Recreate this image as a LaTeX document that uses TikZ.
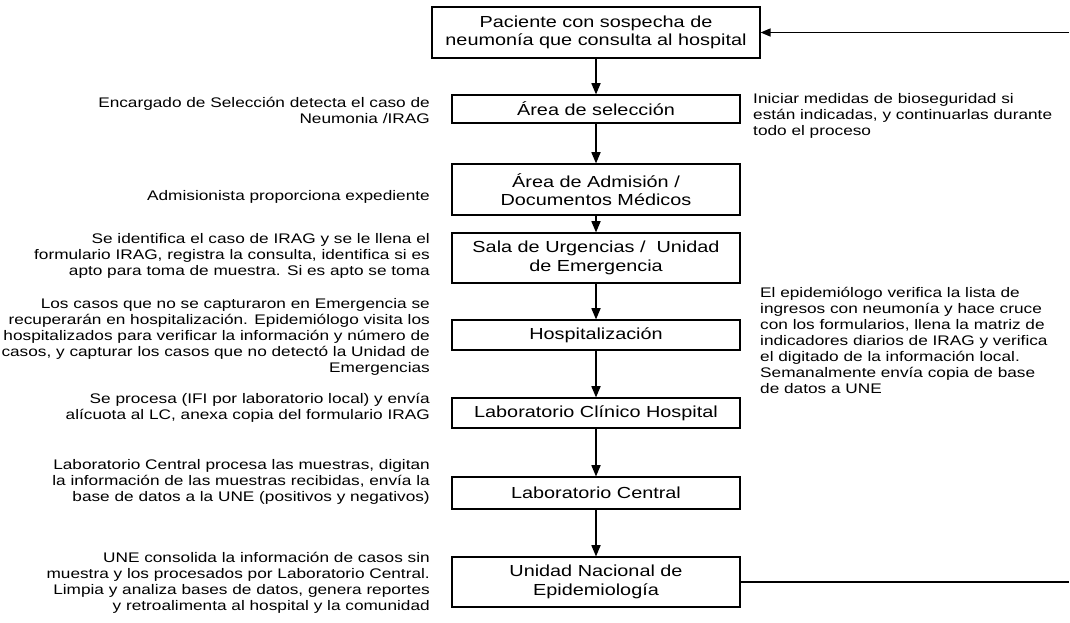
\documentclass[tikz,border=0pt]{standalone}
\usepackage{fontspec}
\setmainfont{Liberation Sans}[FakeStretch=1.24]
\usetikzlibrary{arrows,positioning}
\tikzset{nbox/.style={draw=black,line width=1.3pt,fill=white,align=center,inner sep=1pt,font=\fontsize{16}{18.3}\selectfont}}
\tikzset{ntl/.style={anchor=east,align=right,inner sep=0pt,font=\fontsize{13.9}{16}\selectfont}}
\tikzset{ntr/.style={anchor=west,align=left,inner sep=0pt,font=\fontsize{13.9}{16}\selectfont}}
\tikzset{ln/.style={line width=1.6pt,>=triangle 45}}

\begin{document}
\begin{tikzpicture}[x=1pt,y=-1pt]
\useasboundingbox (0,0) rectangle (1070,622);
% the process, top to bottom
\node [nbox,minimum width=328,minimum height=51] at (596,32.5) (p1) {Paciente con sospecha de\\neumonía que consulta al hospital};
\node [nbox,minimum width=288,minimum height=28] at (596,109) (p2) {Área de selección}
	edge [ln,<-] (p1);
\node [nbox,minimum width=288,minimum height=51] at (596,189.5) (p3) {Área de Admisión /\\Documentos Médicos}
	edge [ln,<-] (p2);
\node [nbox,minimum width=288,minimum height=50] at (596,258) (p4) {Sala de Urgencias / \ Unidad\\de Emergencia}
	edge [ln,<-] (p3);
\node [nbox,minimum width=288,minimum height=30] at (596,335) (p5) {Hospitalización}
	edge [ln,<-] (p4);
\node [nbox,minimum width=288,minimum height=30] at (596,413) (p6) {Laboratorio Clínico Hospital}
	edge [ln,<-] (p5);
\node [nbox,minimum width=288,minimum height=32] at (596,493) (p7) {Laboratorio Central}
	edge [ln,<-] (p6);
\node [nbox,minimum width=288,minimum height=50] at (596,582) (p8) {Unidad Nacional de\\Epidemiología}
	edge [ln,<-] (p7);

% back to the start
\coordinate (c1) at (1069,582);
\coordinate (c2) at (1069,32.5);
\draw [line width=1.3pt] (p8.east) -- (c1);
\draw [ln,->,line width=1.3pt] (c2) -- (p1.east);

% what each step does
\node [ntl] at (430,110.5) (t2) {Encargado de Selección detecta el caso de\\Neumonia /IRAG};
\node [ntl] at (430,197) (t3) {Admisionista proporciona expediente};
\node [ntl] at (430,256) (t4) {Se identifica el caso de IRAG y se le llena el\\formulario IRAG, registra la consulta, identifica si es\\apto para toma de muestra. Si es apto se toma};
\node [ntl] at (430,337) (t5) {Los casos que no se capturaron en Emergencia se\\recuperarán en hospitalización. Epidemiólogo visita los\\hospitalizados para verificar la información y número de\\casos, y capturar los casos que no detectó la Unidad de\\Emergencias};
\node [ntl] at (430,408) (t6) {Se procesa (IFI por laboratorio local) y envía\\alícuota al LC, anexa copia del formulario IRAG};
\node [ntl] at (430,482) (t7) {Laboratorio Central procesa las muestras, digitan\\la información de las muestras recibidas, envía la\\base de datos a la UNE (positivos y negativos)};
\node [ntl] at (430,583) (t8) {UNE consolida la información de casos sin\\muestra y los procesados por Laboratorio Central.\\Limpia y analiza bases de datos, genera reportes\\y retroalimenta al hospital y la comunidad};

\node [ntr] at (753,115.5) (r2) {Iniciar medidas de bioseguridad si\\están indicadas, y continuarlas durante\\todo el proceso};
\node [ntr] at (760,340) (r4) {El epidemiólogo verifica la lista de\\ingresos con neumonía y hace cruce\\con los formularios, llena la matriz de\\indicadores diarios de IRAG y verifica\\el digitado de la información local.\\Semanalmente envía copia de base\\de datos a UNE};
\end{tikzpicture}
\end{document}
